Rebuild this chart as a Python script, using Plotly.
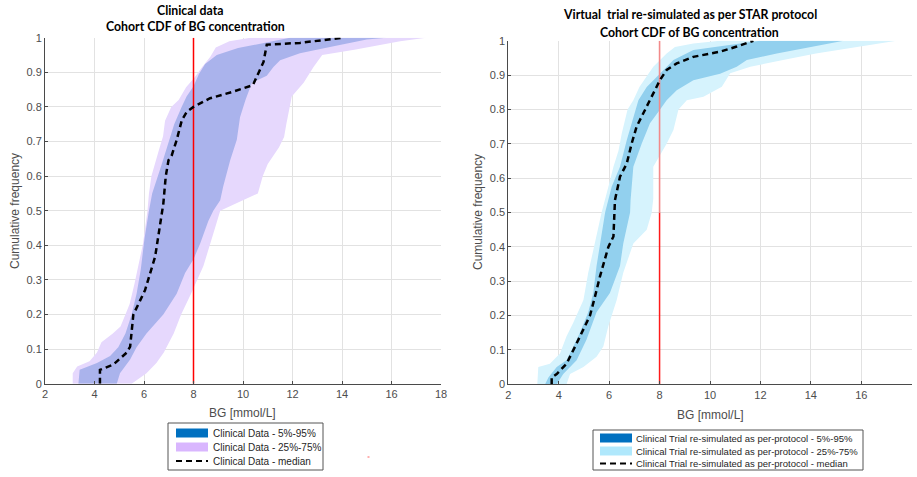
import plotly.graph_objects as go

# ---------------- data ----------------
threshold_bg = 8
x_ticks = [2, 4, 6, 8, 10, 12, 14, 16, 18]

# Left: clinical data
L_outer_lo_y = [0, 0.03, 0.05, 0.065, 0.09, 0.12, 0.145, 0.165, 0.2, 0.23, 0.29, 0.35, 0.405, 0.5, 0.55, 0.6, 0.635, 0.675, 0.715, 0.76, 0.8, 0.82, 0.857, 0.886, 0.915, 0.945, 0.972, 0.99, 1.0]
L_outer_lo_x = [3.12, 3.12, 3.3, 3.8, 4.1, 4.28, 4.74, 5.05, 5.25, 5.42, 5.62, 5.8, 5.96, 6.14, 6.2, 6.3, 6.43, 6.6, 6.77, 6.85, 7.1, 7.4, 7.7, 8.05, 8.35, 8.68, 8.9, 9.45, 10.3]
L_outer_hi_y = [0, 0.03, 0.06, 0.09, 0.145, 0.2, 0.26, 0.34, 0.405, 0.45, 0.5, 0.52, 0.55, 0.6, 0.635, 0.683, 0.713, 0.75, 0.83, 0.87, 0.915, 0.95, 0.965, 0.99, 1.0]
L_outer_hi_x = [5.5, 6.1, 6.5, 6.8, 7.2, 7.5, 7.9, 8.4, 8.67, 8.87, 9.08, 9.69, 10.6, 10.8, 11.0, 11.45, 11.66, 11.75, 11.97, 12.45, 12.85, 13.2, 14.5, 16.35, 17.4]
L_inner_lo_y = [0, 0.04, 0.06, 0.08, 0.105, 0.145, 0.2, 0.26, 0.33, 0.42, 0.5, 0.55, 0.635, 0.69, 0.75, 0.8, 0.83, 0.86, 0.895, 0.924, 0.95, 0.97, 0.985, 1.0]
L_inner_lo_x = [3.35, 3.4, 4.1, 4.63, 4.96, 5.25, 5.5, 5.7, 5.87, 6.02, 6.2, 6.33, 6.72, 6.95, 7.22, 7.52, 7.72, 8.0, 8.22, 8.47, 8.94, 9.8, 10.8, 11.9]
L_inner_hi_y = [0, 0.03, 0.07, 0.105, 0.145, 0.2, 0.26, 0.32, 0.36, 0.405, 0.47, 0.5, 0.53, 0.57, 0.645, 0.705, 0.77, 0.82, 0.87, 0.89, 0.915, 0.935, 0.955, 0.975, 0.995, 1.0]
L_inner_hi_x = [4.9, 5.03, 5.44, 5.7, 6.1, 6.78, 7.32, 7.66, 8.0, 8.27, 8.6, 8.8, 9.08, 9.2, 9.48, 9.75, 9.88, 10.1, 10.36, 10.96, 11.23, 11.5, 12.3, 13.66, 15.0, 15.8]
L_median_x = [4.22, 4.22, 4.76, 5.3, 5.44, 5.57, 5.84, 6.04, 6.45, 6.65, 6.78, 6.88, 6.99, 7.12, 7.32, 7.53, 7.73, 8.0, 8.67, 9.6, 10.4, 10.83, 10.96, 12.3, 14.06]
L_median_y = [0, 0.04, 0.055, 0.09, 0.107, 0.2, 0.24, 0.27, 0.367, 0.455, 0.52, 0.6, 0.646, 0.66, 0.704, 0.762, 0.786, 0.8, 0.825, 0.844, 0.863, 0.93, 0.98, 0.985, 1.0]

# Right: virtual trial
R_outer_lo_y = [0, 0.05, 0.06, 0.09, 0.14, 0.18, 0.245, 0.325, 0.39, 0.46, 0.5, 0.575, 0.633, 0.68, 0.73, 0.8, 0.827, 0.865, 0.924, 0.963, 0.982, 0.992, 1.0]
R_outer_lo_x = [3.15, 3.19, 3.65, 4.05, 4.31, 4.58, 4.98, 5.17, 5.37, 5.57, 5.7, 5.97, 6.17, 6.37, 6.5, 6.73, 6.96, 7.2, 7.75, 8.28, 8.61, 9.34, 10.4]
R_outer_hi_y = [0, 0.03, 0.05, 0.08, 0.11, 0.17, 0.245, 0.325, 0.41, 0.45, 0.5, 0.54, 0.633, 0.7, 0.74, 0.8, 0.827, 0.837, 0.866, 0.905, 0.924, 0.944, 0.963, 0.982, 1.0]
R_outer_hi_x = [4.31, 4.45, 4.98, 5.5, 5.77, 5.97, 6.3, 6.56, 6.96, 7.49, 7.69, 7.75, 7.75, 8.28, 8.55, 8.75, 9.08, 9.74, 10.47, 10.8, 11.6, 12.9, 14.2, 15.8, 17.4]
R_inner_lo_y = [0, 0.02, 0.05, 0.07, 0.11, 0.15, 0.21, 0.266, 0.344, 0.42, 0.5, 0.575, 0.633, 0.711, 0.779, 0.827, 0.865, 0.904, 0.944, 0.973, 0.987, 1.0]
R_inner_lo_x = [3.46, 3.59, 3.92, 4.31, 4.58, 4.84, 5.17, 5.37, 5.5, 5.66, 5.84, 6.1, 6.43, 6.7, 6.96, 7.16, 7.49, 8.02, 8.55, 9.34, 10.66, 11.98]
R_inner_hi_y = [0, 0.03, 0.07, 0.13, 0.21, 0.266, 0.344, 0.41, 0.5, 0.536, 0.633, 0.7, 0.76, 0.8, 0.827, 0.856, 0.885, 0.904, 0.924, 0.944, 0.963, 0.982, 1.0]
R_inner_hi_x = [3.92, 4.18, 4.71, 5.1, 5.5, 6.03, 6.43, 6.56, 6.83, 6.85, 6.96, 7.29, 7.62, 8.02, 8.28, 8.68, 9.34, 10.4, 11.06, 11.46, 12.65, 13.97, 15.3]
R_median_x = [3.72, 3.72, 3.92, 4.31, 4.65, 4.91, 5.24, 5.44, 5.64, 5.97, 6.17, 6.23, 6.43, 6.7, 6.89, 7.09, 7.29, 7.62, 7.89, 8.02, 8.28, 8.68, 9.34, 10.4, 11.06, 11.72]
R_median_y = [0, 0.02, 0.03, 0.06, 0.11, 0.15, 0.2, 0.256, 0.315, 0.4, 0.43, 0.536, 0.604, 0.643, 0.7, 0.75, 0.779, 0.827, 0.866, 0.886, 0.915, 0.934, 0.953, 0.968, 0.983, 1.0]

L_legend = ["Clinical Data - 5%-95%", "Clinical Data - 25%-75%", "Clinical Data - median"]
R_legend = ["Clinical Trial re-simulated as per-protocol - 5%-95%",
            "Clinical Trial re-simulated as per-protocol - 25%-75%",
            "Clinical Trial re-simulated as per-protocol - median"]

# ---------------- styling ----------------
W, H = 917, 477
FONT = "Liberation Sans"
TFONT = "Lato"
L_OUTER, L_INNER = "#e6d8fd", "#aab3ec"
R_OUTER, R_INNER = "#d6f3fd", "#92d0ee"


def px(x):
    return x / W


def py(y):
    return 1 - y / H


def band(xlo, ylo, xhi, yhi, color, xa, ya):
    return go.Scatter(x=list(xlo) + list(xhi)[::-1], y=list(ylo) + list(yhi)[::-1],
                      fill="toself", fillcolor=color, mode="lines", line=dict(width=0, color=color),
                      xaxis=xa, yaxis=ya, hoverinfo="skip", showlegend=False)


fig = go.Figure()
fig.add_trace(band(L_outer_lo_x, L_outer_lo_y, L_outer_hi_x, L_outer_hi_y, L_OUTER, "x", "y"))
fig.add_trace(band(L_inner_lo_x, L_inner_lo_y, L_inner_hi_x, L_inner_hi_y, L_INNER, "x", "y"))
fig.add_trace(go.Scatter(x=[threshold_bg, threshold_bg], y=[0, 1], mode="lines",
                         line=dict(color="#ff0000", width=1.5), xaxis="x", yaxis="y", showlegend=False))
fig.add_trace(go.Scatter(x=L_median_x, y=L_median_y, mode="lines",
                         line=dict(color="black", width=2.5, dash="6px,4px"), xaxis="x", yaxis="y", showlegend=False))

fig.add_trace(band(R_outer_lo_x, R_outer_lo_y, R_outer_hi_x, R_outer_hi_y, R_OUTER, "x2", "y2"))
fig.add_trace(band(R_inner_lo_x, R_inner_lo_y, R_inner_hi_x, R_inner_hi_y, R_INNER, "x2", "y2"))
fig.add_trace(go.Scatter(x=[threshold_bg, threshold_bg], y=[0, 0.5], mode="lines",
                         line=dict(color="#ff1a1a", width=1.5), xaxis="x2", yaxis="y2", showlegend=False))
fig.add_trace(go.Scatter(x=[threshold_bg, threshold_bg], y=[0.5, 1], mode="lines",
                         line=dict(color="#f28a8a", width=1.6), xaxis="x2", yaxis="y2", showlegend=False))
fig.add_trace(go.Scatter(x=R_median_x, y=R_median_y, mode="lines",
                         line=dict(color="black", width=2.5, dash="6px,4px"), xaxis="x2", yaxis="y2", showlegend=False))

axis_common = dict(showline=True, linecolor="#4a4a4a", linewidth=1, ticks="inside", ticklen=3,
                   tickcolor="#4a4a4a", showgrid=True, gridcolor="#e2e2e2", gridwidth=1,
                   zeroline=False, tickfont=dict(family=FONT, size=11, color="#4d4d4d"), mirror=False,
                   automargin=False)

fig.update_layout(
    width=W, height=H, margin=dict(l=0, r=0, t=0, b=0, autoexpand=False),
    paper_bgcolor="white", plot_bgcolor="white", showlegend=False,
    xaxis=dict(domain=[px(45), px(441)], range=[2, 18], tickvals=x_ticks, anchor="y", **axis_common),
    yaxis=dict(domain=[py(383.7), py(37.7)], range=[0, 1], dtick=0.1, anchor="x", **axis_common),
    xaxis2=dict(domain=[px(508.3), px(911.7)], range=[2, 18], tickvals=x_ticks, anchor="y2", **axis_common),
    yaxis2=dict(domain=[py(384.3), py(40.7)], range=[0, 1], dtick=0.1, anchor="x2", **axis_common),
)

ann = []
shapes = []


def text(x, y, s, size=11, family=FONT, color="#262626", xanchor="center", bold=False, angle=0):
    ann.append(dict(x=px(x), y=py(y), xref="paper", yref="paper", text=("<b>%s</b>" % s) if bold else s,
                    showarrow=False, xanchor=xanchor, yanchor="middle", textangle=angle,
                    font=dict(family=family, size=size, color=color)))


# titles
TS = 12.3
text(190, 10, "Clinical data", size=TS, family=TFONT, color="black", bold=True)
text(195, 27, "Cohort CDF of BG concentration", size=TS, family=TFONT, color="black", bold=True)
text(690, 15, "Virtual&nbsp; trial re-simulated as per STAR protocol", size=TS, family=TFONT, color="black", bold=True)
text(689, 32, "Cohort CDF of BG concentration", size=TS, family=TFONT, color="black", bold=True)
# axis labels
text(243, 413, "BG [mmol/L]", size=12, color="#4d4d4d")
text(710, 415, "BG [mmol/L]", size=12, color="#4d4d4d")
text(15, 211, "Cumulative frequency", size=12, color="#4d4d4d", angle=-90)
text(478, 212, "Cumulative frequency", size=12, color="#4d4d4d", angle=-90)


def legend(box, sw_x, txt_x, rows, labels, colors, size):
    x0, x1, y0, y1 = box
    shapes.append(dict(type="rect", xref="paper", yref="paper", x0=px(x0), x1=px(x1), y0=py(y1), y1=py(y0),
                       line=dict(color="#555555", width=1), fillcolor="white", layer="above"))
    for i, (lab, yc) in enumerate(zip(labels, rows)):
        if i < 2:
            shapes.append(dict(type="rect", xref="paper", yref="paper", x0=px(sw_x[0]), x1=px(sw_x[1]),
                               y0=py(yc + 4.5), y1=py(yc - 4.5), line=dict(width=0), fillcolor=colors[i],
                               layer="above"))
        else:
            shapes.append(dict(type="line", xref="paper", yref="paper", x0=px(sw_x[0]), x1=px(sw_x[1]),
                               y0=py(yc), y1=py(yc), line=dict(color="black", width=2, dash="6px,4px"),
                               layer="above"))
        text(txt_x, yc, lab, size=size, color="#262626", xanchor="left")


legend((168, 323, 423, 470), (176, 208), 211, [433, 447, 461], L_legend, ["#0070c0", "#d9b6fe"], 10)
legend((593, 863, 430, 470), (600, 632), 634, [438, 451, 463.5], R_legend, ["#0070c0", "#b0e8fc"], 9.5)

# small stray mark under left panel
shapes.append(dict(type="line", xref="paper", yref="paper", x0=px(367.5), x1=px(369.5), y0=py(457), y1=py(457),
                   line=dict(color="#ff6060", width=1)))

fig.update_layout(annotations=ann, shapes=shapes)
fig.write_html("out.html", config={"displayModeBar": False},
               post_script="document.body.style.margin='0px';document.body.style.padding='0px';")
